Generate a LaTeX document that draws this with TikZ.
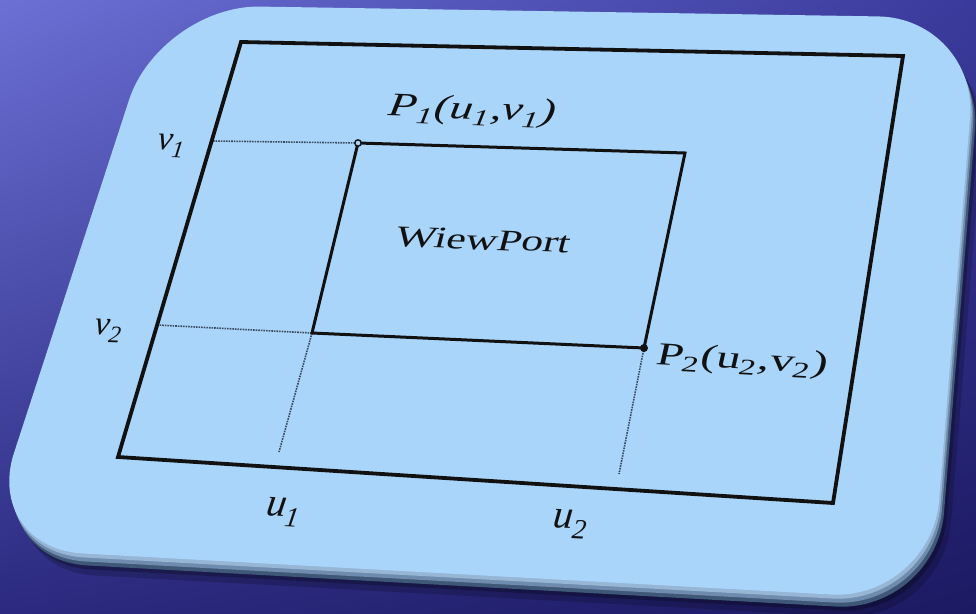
\documentclass[tikz,border=0pt]{standalone}
\usepackage{fontspec}
\setmainfont{Liberation Serif}
\usepackage{graphicx}
\usetikzlibrary{shadings}
\definecolor{bgTL}{HTML}{6C70D4}
\definecolor{bgTR}{HTML}{3A3A9C}
\definecolor{bgBL}{HTML}{2B2A80}
\definecolor{bgBR}{HTML}{1C1A62}
\definecolor{face}{HTML}{AAD5FA}
\definecolor{rimA}{HTML}{97B5D5}
\definecolor{rimB}{HTML}{6F8CAE}
\definecolor{rimC}{HTML}{3F5877}
\definecolor{guidecol}{HTML}{3A4A5E}
\definecolor{ink}{HTML}{111111}
\begin{document}
\begin{tikzpicture}[x=1pt,y=-1pt,
  frame/.style={line width=3.8pt,draw=ink,line join=miter},
  vp/.style={line width=3pt,draw=ink,line join=miter},
  guide/.style={densely dotted,line width=1.6pt,draw=guidecol},
  lbl/.style={inner sep=0pt,text=ink},
  cardshape/.style={rounded corners=100pt}]
\useasboundingbox (0,0) rectangle (976,613);
\clip (0,0) rectangle (976,613);
% background
\shade[upper left=bgTL,upper right=bgTR,lower left=bgBL,lower right=bgBR] (0,0) rectangle (976,613);
% shadow and rim of card
\def\cardpath{(160,5) -- (978,18) -- (931,600) -- (-17,548) -- cycle}
\begin{scope}[shift={(12,22)}]
  \fill[black,opacity=0.18,cardshape] \cardpath;
\end{scope}
\begin{scope}[shift={(8,16)}]
  \fill[black,opacity=0.25,cardshape] \cardpath;
\end{scope}
\begin{scope}[shift={(5,12)}]
  \fill[rimC,cardshape] \cardpath;
\end{scope}
\begin{scope}[shift={(3,8)}]
  \fill[rimB,cardshape] \cardpath;
\end{scope}
\begin{scope}[shift={(1.5,4)}]
  \fill[rimA,cardshape] \cardpath;
\end{scope}
\fill[face,cardshape] \cardpath;
% coordinates
\coordinate (O1) at (241,42);
\coordinate (O2) at (903,56);
\coordinate (O3) at (833,503);
\coordinate (O4) at (118,457);
\coordinate (I1) at (358,143);
\coordinate (I2) at (685,153);
\coordinate (I3) at (644,348);
\coordinate (I4) at (312,333);
\coordinate (V1) at (213,141);
\coordinate (V2) at (157,325);
\coordinate (U1) at (279,452);
\coordinate (U2) at (619,474);
% guides
\draw[guide] (V1) -- (I1);
\draw[guide] (V2) -- (I4);
\draw[guide] (I4) -- (U1);
\draw[guide] (I3) -- (U2);
% frames
\draw[frame] (O1) -- (O2) -- (O3) -- (O4) -- cycle;
\draw[vp] (I1) -- (I2) -- (I3) -- (I4) -- cycle;
% point markers
\draw[line width=1.4pt,draw=ink,fill=face] (I1) circle (3.2);
\fill[ink] (I3) circle (4);
% labels
\node[lbl,rotate=-2,xslant=0.1,xscale=1.42] (lp1) at (472,111)
  {\fontsize{33}{33}\selectfont\itshape P\textsubscript{1}(u\textsubscript{1},v\textsubscript{1})};
\node[lbl,rotate=-2,xslant=0.22,xscale=1.45] (lwp) at (483,240)
  {\fontsize{30}{30}\selectfont WiewPort};
\node[lbl,rotate=-3,xslant=0.17,xscale=1.5] (lp2) at (742,361)
  {\fontsize{32}{32}\selectfont P\textsubscript{2}(u\textsubscript{2},v\textsubscript{2})};
\node[lbl,rotate=-2,xslant=0.1] (lv1) at (171,146)
  {\fontsize{34}{34}\selectfont\itshape v\textsubscript{1}};
\node[lbl,rotate=-2,xslant=0.1] (lv2) at (108,331)
  {\fontsize{34}{34}\selectfont\itshape v\textsubscript{2}};
\node[lbl,rotate=-3,xslant=0.1] (lu1) at (283,512)
  {\fontsize{40}{40}\selectfont\itshape u\textsubscript{1}};
\node[lbl,rotate=-3,xslant=0.05] (lu2) at (570,524)
  {\fontsize{40}{40}\selectfont\itshape u\textsubscript{2}};
\end{tikzpicture}
\end{document}
